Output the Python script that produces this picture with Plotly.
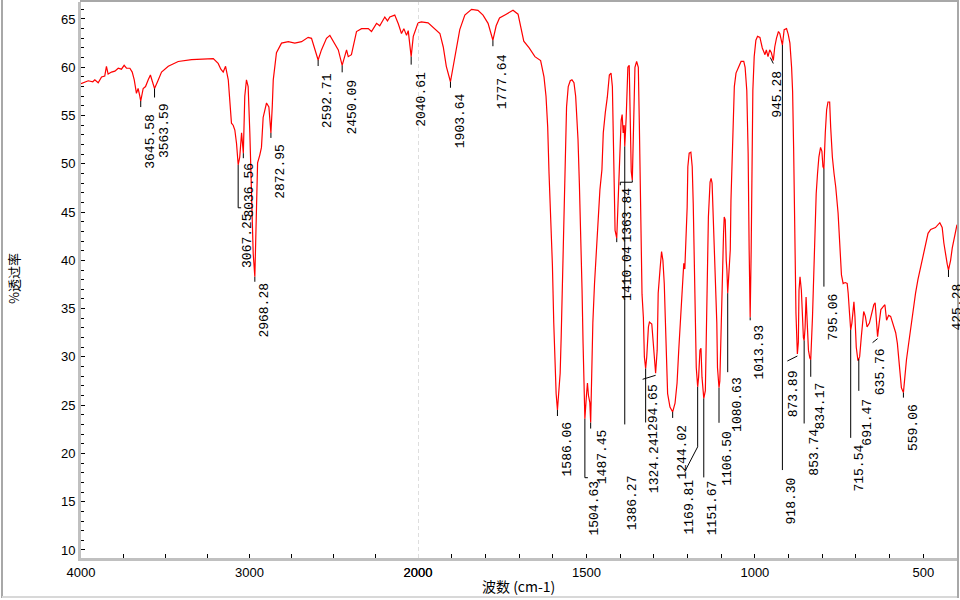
import numpy as np
import plotly.graph_objects as go

# ---------------- data ----------------
wavenumber = [
    4000, 3957, 3930, 3918, 3898, 3878, 3859, 3849, 3839, 3819, 3799, 3779, 3760, 3744, 3730, 3710,
    3696, 3684, 3671, 3661, 3651, 3645.58, 3631, 3617, 3601, 3588, 3576, 3563.59, 3546, 3522, 3482,
    3423, 3344, 3265, 3215, 3186, 3170, 3156, 3142, 3126, 3117, 3107, 3097, 3087, 3077, 3067.25,
    3058, 3047, 3036.56, 3028, 3018, 3008, 2998, 2988, 2978, 2968.28, 2958, 2952, 2939, 2929, 2919,
    2899, 2885, 2872.95, 2865, 2859, 2840, 2810, 2770, 2731, 2691, 2652, 2632, 2612, 2592.71, 2573,
    2543, 2523, 2503, 2473, 2450.09, 2424, 2414, 2395, 2365, 2335, 2295, 2276, 2246, 2227, 2197,
    2181, 2167, 2138, 2117, 2098, 2084, 2068, 2058, 2040.61, 2028, 2009, 2000,
    1990, 1970, 1950, 1935, 1925, 1916, 1903.64, 1896, 1886, 1876, 1861, 1841, 1822, 1807, 1792,
    1777.64, 1768, 1758, 1738, 1718, 1703, 1695, 1686, 1670, 1653, 1636, 1626, 1620, 1615, 1611,
    1606, 1601, 1597, 1593, 1590, 1586.06, 1581, 1578, 1575, 1572, 1569, 1566, 1563, 1559, 1554,
    1548, 1543, 1537, 1532, 1528, 1525, 1521, 1517, 1513, 1510, 1507, 1504.63, 1500, 1497, 1494,
    1490, 1487.45, 1484, 1481, 1476, 1471, 1466, 1460, 1454, 1450, 1444, 1438, 1432, 1427, 1423,
    1419, 1415, 1410.04, 1405, 1400, 1397, 1394, 1391, 1388, 1386.27, 1382, 1377, 1373, 1370, 1367,
    1363.84, 1361, 1356, 1351, 1346, 1343, 1340, 1337, 1335, 1331, 1328, 1324.24, 1321, 1316, 1313,
    1306, 1300, 1296, 1294.65, 1290, 1287, 1281, 1277, 1273, 1269, 1266, 1262, 1259, 1252, 1244.02,
    1237, 1231, 1226, 1221, 1216, 1211, 1208, 1204, 1201, 1199, 1195, 1190, 1186, 1183, 1180, 1177,
    1174, 1169.81, 1167, 1163, 1160, 1157, 1154, 1151.67, 1147, 1144, 1141, 1138, 1133, 1130, 1127,
    1124, 1119, 1116, 1113, 1111, 1109, 1106.50, 1104, 1101, 1098, 1096, 1093, 1091, 1088, 1085,
    1083, 1080.63, 1077, 1073, 1071, 1066, 1061, 1056, 1049, 1041, 1033, 1029, 1024, 1020, 1017,
    1015, 1013.93, 1011, 1009, 1006, 1002, 997, 992, 985, 978, 970, 966, 961, 956, 951, 945.28, 941,
    936, 930, 926, 921, 918.30, 913, 906, 901, 896, 891, 888, 885, 881, 878, 873.89, 871, 869, 866,
    862, 859, 856, 853.74, 851, 848, 845, 841, 837, 834.17, 829, 826, 822, 818, 814, 810, 805, 801,
    798, 795.06, 791, 787, 783, 778, 775, 770, 765, 760, 753, 747, 743, 738, 732, 726, 723, 719,
    715.54, 712, 709, 706, 703, 699, 694, 691.47, 689, 684, 681, 677, 672, 667, 660, 653, 647, 643,
    639, 635.76, 631, 626, 619, 614, 609, 603, 597, 590, 582, 577, 572, 569, 565, 559.06, 555, 550,
    545, 538, 531, 523, 516, 508, 501, 493, 486, 478, 464, 451, 444, 439, 434, 429, 425.28, 419, 414,
    409, 404, 400,
]
transmittance = [
    58.3, 58.6, 58.5, 58.7, 58.4, 59.0, 59.1, 60.1, 59.3, 59.5, 59.6, 59.9, 59.8, 60.2, 59.9, 59.9,
    59.5, 58.7, 57.3, 57.8, 57.0, 56.5, 57.8, 58.0, 58.7, 59.2, 58.5, 57.8, 58.5, 59.5, 60.1,
    60.6, 60.8, 60.9, 60.9, 60.4, 59.8, 59.5, 60.1, 58.7, 56.9, 54.2, 54.0, 53.5, 52.1, 49.9,
    50.7, 53.2, 51.1, 57.0, 58.7, 58.0, 53.2, 47.6, 40.7, 38.3, 45.5, 50.1, 50.9, 51.7, 54.8,
    56.3, 55.9, 53.2, 55.9, 58.7, 61.5, 62.5, 62.65, 62.5, 62.65, 63.1, 63.0, 61.8, 60.75, 61.8,
    63.0, 63.3, 62.65, 61.8, 60.2, 61.8, 61.1, 61.3, 63.7, 64.0, 64.0, 63.7, 64.55, 64.3, 65.2,
    64.8, 65.2, 65.4, 64.5, 63.5, 64.0, 63.3, 63.8, 61.1, 63.2, 64.2, 64.6,
    64.7, 64.6, 64.0, 63.5, 62.1, 60.1, 58.5, 60.1, 62.1, 63.9, 65.4, 66.0, 65.9, 65.4, 64.55,
    62.8, 64.3, 65.1, 65.5, 65.9, 65.5, 64.2, 62.7, 62.0, 61.1, 60.7, 59.0, 57.0, 53.8, 49.0,
    44.5, 39.5, 33.5, 28.5, 26.2, 24.5, 26.5, 28.3, 32.0, 36.5, 42.0, 48.5, 52.5, 55.9, 58.0,
    58.6, 58.7, 58.4, 57.0, 55.0, 52.5, 48.0, 43.0, 36.9, 31.4, 25.5, 23.6, 26.0, 27.3, 26.0,
    25.3, 23.2, 28.9, 33.5, 37.6, 40.9, 44.5, 47.3, 49.4, 53.2, 55.3, 56.9, 59.2, 59.4, 58.0,
    49.7, 43.1, 42.3, 46.6, 52.1, 54.5, 55.1, 53.2, 54.0, 51.8, 54.8, 60.0, 60.2, 54.8, 49.2,
    48.3, 53.2, 60.0, 60.6, 60.0, 54.2, 48.0, 40.5, 36.5, 34.1, 30.0, 28.8, 30.0, 33.1, 33.6,
    33.4, 31.0, 28.9, 28.3, 30.7, 36.6, 39.3, 40.9, 40.0, 37.6, 34.1, 30.0, 26.2, 24.8, 24.3,
    25.2, 27.3, 30.7, 34.1, 37.6, 39.7, 39.1, 42.0, 45.5, 49.7, 51.1, 51.2, 49.7, 45.9, 39.3, 33.0,
    28.9, 26.9, 27.9, 30.7, 30.9, 27.9, 25.8, 25.7, 26.5, 31.4, 37.6, 44.5, 48.1, 48.5, 48.0,
    44.5, 41.1, 37.6, 33.5, 28.9, 27.3, 26.8, 27.5, 32.5, 37.6, 38.3, 42.8, 44.5, 44.2, 40.0,
    39.0, 36.6, 38.5, 41.1, 46.2, 53.2, 58.0, 59.4, 60.0, 60.6, 60.6, 60.0, 57.6, 51.1, 41.1,
    35.2, 34.1, 41.0, 51.1, 57.6, 61.1, 62.8, 63.2, 63.1, 62.0, 61.3, 61.8, 61.1, 61.8, 61.5, 60.7, 62.1,
    63.0, 63.7, 63.5, 62.6, 62.3, 63.9, 64.0, 63.4, 62.5, 60.0, 57.5, 51.7, 42.8, 34.5, 30.3, 31.5, 36.9, 38.3,
    36.9, 33.8, 32.0, 31.7, 33.0, 36.2, 33.5, 30.7, 29.9, 29.7, 34.1, 38.3, 42.8, 46.9, 49.0, 50.7, 51.7, 51.3,
    49.7, 49.5, 53.2, 55.6, 56.4, 56.4, 53.8, 50.7, 49.0, 47.6, 44.9, 40.6, 38.5, 37.6, 37.7, 37.6, 36.6, 34.5,
    32.8, 33.5, 34.5, 35.7, 34.2, 31.0, 29.6, 29.8, 30.0, 32.1, 33.5, 34.7, 34.2, 33.1, 33.5, 34.5, 35.4, 35.6,
    33.8, 32.1, 33.5, 34.9, 35.2, 35.4, 33.8, 34.3, 34.2, 33.3, 32.5, 31.4, 29.4, 27.6, 26.8, 26.3, 28.0, 29.7,
    31.0, 32.8, 34.8, 36.6, 38.0, 39.3, 40.7, 41.9, 42.8, 43.2, 43.4, 43.9, 43.4, 41.8, 40.4, 39.6, 39.0, 40.0, 41.3,
    42.2, 43.1, 43.7,
]
peak_labels = [
    3645.58, 3563.59, 3067.25, 3036.56, 2968.28, 2872.95, 2592.71, 2450.09, 2040.61, 1903.64,
    1777.64, 1586.06, 1504.63, 1487.45, 1410.04, 1386.27, 1363.84, 1324.24, 1294.65, 1244.02,
    1169.81, 1151.67, 1106.50, 1080.63, 1013.93, 945.28, 918.30, 873.89, 853.74, 834.17, 795.06,
    715.54, 691.47, 635.76, 559.06, 425.28,
]
y_ticks = [10, 15, 20, 25, 30, 35, 40, 45, 50, 55, 60, 65]
x_ticks_high = [4000, 3000, 2000]
x_ticks_low = [2000, 1500, 1000, 500]

# ---------------- label placement (pixels, relative to the peak) ----------------
# (dx, dy_down, leader polyline with y measured downward)
label_place = {
    3645.58: (9, 40, [(0, 0), (0, 6)]),
    3563.59: (10, 42, [(0, 0), (0, 9)]),
    3067.25: (10, 76, [(0, 0), (0, 43), (3, 43)]),
    3036.56: (6, 37, [(0, 0), (0, 5)]),
    2968.28: (10, 33, [(0, 0), (0, 5)]),
    2872.95: (10, 38, [(0, 0), (0, 5)]),
    2592.71: (9, 41, [(0, 0), (0, 6)]),
    2450.09: (10, 42, [(0, 0), (0, 7)]),
    2040.61: (10, 43, [(0, 0), (0, 8)]),
    1903.64: (10, 39, [(0, 0), (0, 6)]),
    1777.64: (9, 41, [(0, 0), (0, 6)]),
    1586.06: (10, 39, [(0, 0), (0, 6)]),
    1504.63: (10, 89, [(0, 0), (0, 59), (3, 59)]),
    1487.45: (12, 34, [(0, 0), (0, 6)]),
    1410.04: (10, 35, [(0, 0), (0, 4)]),
    1386.27: (8, 356, [(0, 0), (0, 278)]),
    1363.84: (-5, 35, [(0, 0), (0, 2), (-12, 2), (-12, 5)]),
    1324.24: (9, 97, [(0, 0), (0, 54)]),
    1294.65: (-2, 38, [(0, 2), (-13, 6)]),
    1244.02: (10, 40, [(0, 0), (0, 6)]),
    1169.81: (-8, 120, [(0, 0), (0, 60), (-13, 85)]),
    1151.67: (9, 109, [(0, 0), (0, 79)]),
    1106.50: (9, 71, [(0, 0), (0, 35)]),
    1080.63: (9, 111, [(0, 0), (0, 79)]),
    1013.93: (9, 35, [(0, 0), (0, 3)]),
    945.28: (4, 34, [(-3, -3), (0, 3)]),
    918.30: (9, 456, [(0, 0), (0, 425)]),
    873.89: (-4, 40, [(0, 2), (-10, 7)]),
    853.74: (10, 112, [(0, 0), (0, 83)]),
    834.17: (10, 46, [(0, 0), (0, 17)]),
    795.06: (10, 148, [(0, 0), (0, 118)]),
    715.54: (9, 138, [(0, 0), (0, 108)]),
    691.47: (9, 63, [(0, 0), (0, 32)]),
    635.76: (3, 35, [(0, 2), (-5, 6)]),
    559.06: (10, 35, [(0, 0), (0, 5)]),
    425.28: (9, 37, [(0, 0), (0, 7)]),
}

# ---------------- figure ----------------
W, H = 960, 600
ML, MR, MT, MB = 81, 3, 2, 42
PW, PH = W - ML - MR, H - MT - MB
split = (418 - ML) / PW

wn = np.array(wavenumber, dtype=float)
tr = np.array(transmittance, dtype=float)
hi = wn >= 2000
lo = wn <= 2000

line_style = dict(color="#ff0000", width=1.2)
fig = go.Figure()
fig.add_trace(go.Scatter(x=wn[hi], y=tr[hi], mode="lines", line=line_style,
                         xaxis="x", yaxis="y", hoverinfo="skip", showlegend=False))
fig.add_trace(go.Scatter(x=wn[lo], y=tr[lo], mode="lines", line=line_style,
                         xaxis="x2", yaxis="y", hoverinfo="skip", showlegend=False))

tick_font = dict(family="Liberation Sans, Arial, sans-serif", size=13, color="black")
axis_common = dict(showline=True, linecolor="#c0c0c0", linewidth=3, showgrid=False,
                   zeroline=False, ticks="inside", ticklen=4, tickwidth=1, tickcolor="black",
                   tickfont=tick_font, fixedrange=True, automargin=False)

shapes = []
annotations = []
order = np.argsort(wn)
for p in peak_labels:
    t = float(np.interp(p, wn[order], tr[order]))
    ref = "x" if p >= 2000 else "x2"
    dx, dy, leader = label_place[p]
    path = "M" + " L".join(f"{px},{-py}" for px, py in leader)
    shapes.append(dict(type="path", path=path, xref=ref, yref="y", xsizemode="pixel",
                       ysizemode="pixel", xanchor=p, yanchor=t,
                       line=dict(color="black", width=1)))
    annotations.append(dict(x=p, y=t, xref=ref, yref="y", text=f"{p:.2f}", showarrow=False,
                            textangle=-90, xanchor="center", yanchor="middle",
                            xshift=dx, yshift=-dy,
                            font=dict(family="Liberation Mono, DejaVu Sans Mono, monospace",
                                      size=13, color="black")))

# dashed separator at 2000
shapes.append(dict(type="line", xref="x2", yref="paper", x0=2000, x1=2000, y0=0, y1=1,
                   line=dict(color="#bdbdbd", width=1, dash="4px,3px"), layer="below"))

# frame lines (pixel positions converted to paper)
def px2paper_x(px):
    return (px - ML) / PW

def px2paper_y(py):
    return (H - MB - py) / PH

frame = "#a8a8a8"
shapes += [
    dict(type="line", xref="paper", yref="paper", x0=px2paper_x(2), x1=px2paper_x(2),
         y0=px2paper_y(0), y1=px2paper_y(598), line=dict(color=frame, width=2)),
    dict(type="line", xref="paper", yref="paper", x0=px2paper_x(2), x1=px2paper_x(958),
         y0=px2paper_y(597), y1=px2paper_y(597), line=dict(color="#d8d8d8", width=2)),
    dict(type="line", xref="paper", yref="paper", x0=px2paper_x(958), x1=px2paper_x(958),
         y0=px2paper_y(0), y1=px2paper_y(598), line=dict(color=frame, width=2)),
    dict(type="line", xref="paper", yref="paper", x0=px2paper_x(80), x1=px2paper_x(958),
         y0=px2paper_y(1), y1=px2paper_y(1), line=dict(color=frame, width=2)),
]

annotations.append(dict(text="%透过率", xref="paper", yref="paper", x=px2paper_x(13),
                        y=px2paper_y(279), textangle=-90, showarrow=False,
                        xanchor="center", yanchor="middle",
                        font=dict(family="Noto Sans CJK SC", size=13, color="black")))
annotations.append(dict(text="波数 (cm-1)", xref="paper", yref="paper", x=px2paper_x(518),
                        y=px2paper_y(586), showarrow=False, xanchor="center", yanchor="middle",
                        font=dict(family="Noto Sans CJK SC", size=14, color="black")))

fig.update_layout(
    width=W, height=H, autosize=False,
    margin=dict(l=ML, r=MR, t=MT, b=MB, pad=0, autoexpand=False),
    paper_bgcolor="white", plot_bgcolor="white", showlegend=False, hovermode=False,
    xaxis=dict(domain=[0, split], range=[4000, 2000], tickvals=x_ticks_high, anchor="y",
               minor=dict(dtick=250, ticks="inside", ticklen=4, tickcolor="black", tickwidth=1),
               **axis_common),
    xaxis2=dict(domain=[split, 1], range=[2000, 400], tickvals=x_ticks_low, anchor="y",
                minor=dict(dtick=100, ticks="inside", ticklen=4, tickcolor="black", tickwidth=1),
                **axis_common),
    yaxis=dict(range=[9.17, 66.76], tickvals=y_ticks, anchor="x",
               minor=dict(dtick=1, ticks="inside", ticklen=3, tickcolor="black", tickwidth=1),
               **axis_common),
    shapes=shapes, annotations=annotations,
)

fig.write_html(
    "out.html",
    config={"displayModeBar": False, "staticPlot": True, "responsive": False},
    post_script=(
        "document.documentElement.style.overflow='hidden';"
        "document.body.style.margin='0px';document.body.style.overflow='hidden';"
    ),
)
